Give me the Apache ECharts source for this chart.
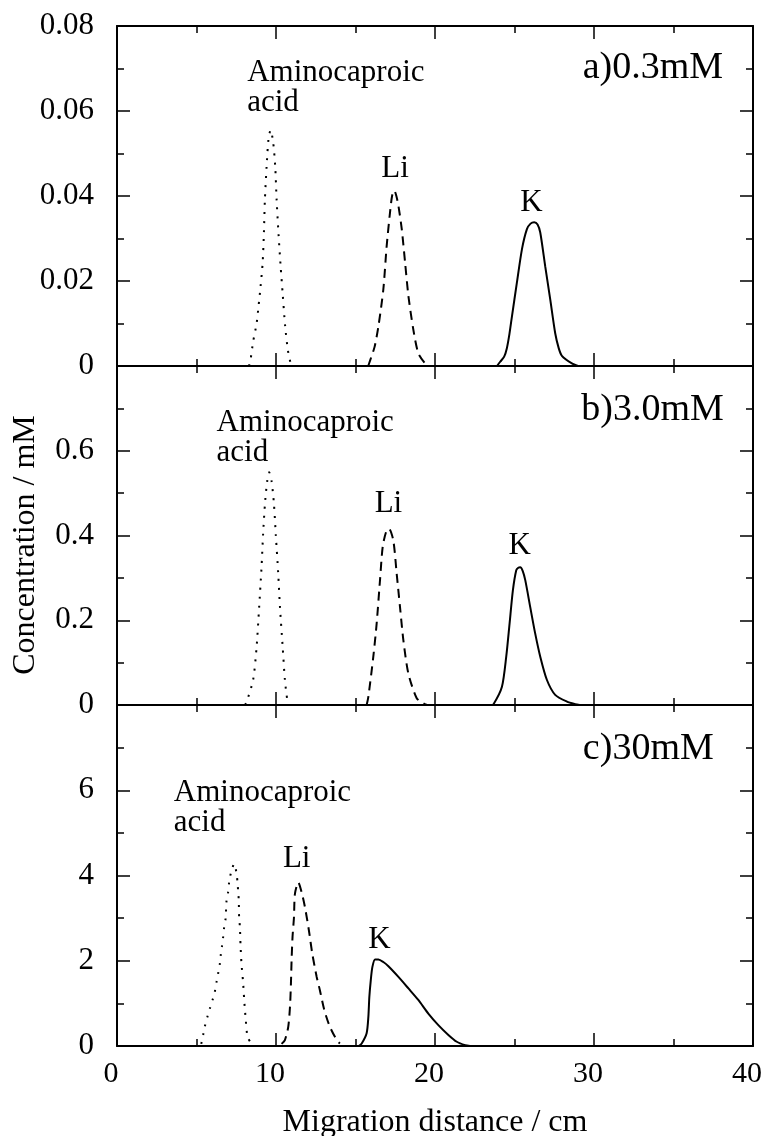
<!DOCTYPE html>
<html><head><meta charset="utf-8">
<script src="https://cdn.jsdelivr.net/npm/echarts@6/dist/echarts.min.js"></script>
<style>html,body{margin:0;padding:0;background:#fff}#c{width:766px;height:1136px}</style>
</head><body><div id="c"></div>
<script>
// ---------------- data ----------------
const xTickLabels = ['0', '10', '20', '30', '40'];
const yTickLabelsA = ['0', '0.02', '0.04', '0.06', '0.08'];
const yTickLabelsB = ['0', '0.2', '0.4', '0.6', '0.8'];
const yTickLabelsC = ['0', '2', '4', '6', '8'];
const panelTitles = ['a)0.3mM', 'b)3.0mM', 'c)30mM'];
const speciesNames = ['Aminocaproic\nacid', 'Li', 'K'];
const xAxisTitle = 'Migration distance / cm';
const yAxisTitle = 'Concentration / mM';

// panel a) 0.3 mM
const amcA = [[8.30,0],[8.40,0.0015],[8.56,0.0057],[8.78,0.010],[8.90,0.014],[9.03,0.0187],[9.16,0.0243],[9.24,0.0314],[9.30,0.039],[9.41,0.047],[9.53,0.0535],[9.66,0.0555],[9.82,0.0527],[9.95,0.047],[10.04,0.039],[10.16,0.031],[10.29,0.0235],[10.42,0.017],[10.58,0.0092],[10.75,0.0037],[10.92,0.0007],[11.05,0]];
const liA = [[15.80,0],[15.91,0.0012],[16.20,0.0045],[16.44,0.0093],[16.75,0.018],[16.96,0.0282],[17.17,0.0361],[17.30,0.0400],[17.44,0.0413],[17.57,0.0400],[17.70,0.0377],[17.91,0.0322],[18.12,0.0243],[18.33,0.0164],[18.64,0.0085],[18.95,0.003],[19.38,0.0006],[19.60,0]];
const kA = [[23.90,0],[24.10,0.001],[24.35,0.0022],[24.52,0.0042],[24.68,0.0075],[24.84,0.0117],[25.15,0.0196],[25.47,0.0275],[25.78,0.0322],[26.01,0.0335],[26.24,0.0338],[26.45,0.0333],[26.62,0.0314],[26.93,0.0235],[27.25,0.0156],[27.56,0.0077],[27.78,0.0042],[27.98,0.0024],[28.61,0.0006],[29.00,0]];

// panel b) 3.0 mM
const amcB = [[8.05,0],[8.15,0.007],[8.56,0.059],[8.78,0.137],[8.94,0.231],[9.09,0.325],[9.19,0.404],[9.32,0.482],[9.45,0.529],[9.57,0.549],[9.72,0.529],[9.87,0.475],[9.99,0.400],[10.14,0.31],[10.25,0.231],[10.42,0.137],[10.56,0.059],[10.71,0.012],[10.80,0]];
const liB = [[15.70,0],[15.81,0.02],[16.12,0.114],[16.33,0.192],[16.54,0.294],[16.71,0.373],[16.92,0.408],[17.11,0.416],[17.38,0.388],[17.59,0.31],[17.80,0.231],[18.01,0.153],[18.32,0.075],[18.85,0.016],[19.27,0.004],[19.50,0]];
const kB = [[23.50,0],[23.68,0.002],[24.21,0.043],[24.48,0.114],[24.69,0.192],[24.90,0.271],[25.11,0.318],[25.24,0.324],[25.36,0.325],[25.52,0.316],[25.68,0.294],[25.99,0.231],[26.30,0.169],[26.62,0.114],[27.04,0.059],[27.56,0.024],[28.30,0.008],[28.82,0.002],[29.10,0]];

// panel c) 30 mM
const amcC = [[5.30,0.05],[5.42,0.26],[5.52,0.45],[5.69,0.69],[5.84,0.88],[6.01,1.08],[6.15,1.27],[6.26,1.50],[6.36,1.70],[6.47,1.93],[6.53,2.15],[6.61,2.36],[6.68,2.57],[6.74,2.79],[6.83,2.99],[6.89,3.41],[6.99,3.61],[7.05,3.83],[7.16,4.05],[7.37,4.27],[7.52,4.05],[7.58,3.83],[7.62,3.63],[7.66,3.41],[7.68,3.02],[7.73,2.79],[7.77,2.36],[7.83,1.93],[7.93,1.50],[8.00,1.08],[8.09,0.65],[8.21,0.22],[8.46,0.05]];
const liC = [[10.35,0.05],[10.56,0.14],[10.77,0.45],[10.88,0.92],[10.94,1.47],[10.98,2.01],[11.04,2.56],[11.13,3.02],[11.19,3.57],[11.40,3.84],[11.61,3.61],[11.82,3.26],[12.07,2.71],[12.28,2.17],[12.56,1.62],[12.76,1.31],[13.04,0.84],[13.39,0.45],[13.82,0.14],[14.02,0.06]];
const kC = [[15.20,0],[15.39,0.06],[15.70,0.30],[15.81,0.69],[15.87,1.15],[15.96,1.54],[16.06,1.85],[16.23,2.03],[16.44,2.03],[16.75,1.97],[17.07,1.87],[17.70,1.62],[18.33,1.35],[18.95,1.08],[19.58,0.76],[20.21,0.49],[20.84,0.26],[21.37,0.10],[21.90,0.02],[22.20,0]];

// annotation anchors (data coordinates): amc, Li, K, panel title
const labelAnchorsA = [[8.19,0.0655],[17.49,0.0465],[26.07,0.0385],[38.12,0.0700]];
const labelAnchorsB = [[6.26,0.630],[17.07,0.474],[25.33,0.375],[38.16,0.695]];
const labelAnchorsC = [[3.57,5.59],[11.30,4.40],[16.51,2.49],[37.53,6.96]];

// ---------------- chart ----------------
const FONT = "'Liberation Serif','DejaVu Serif',serif";
const panels = [
  {top: 26, height: 340, max: 0.08, interval: 0.02, ticks: yTickLabelsA, series: [amcA, liA, kA], anchors: labelAnchorsA},
  {top: 366, height: 339, max: 0.8, interval: 0.2, ticks: yTickLabelsB, series: [amcB, liB, kB], anchors: labelAnchorsB},
  {top: 705, height: 341, max: 8, interval: 2, ticks: yTickLabelsC, series: [amcC, liC, kC], anchors: labelAnchorsC}
];
const lineTypes = [[2, 7], [9, 6], 'solid'];

const tickStyle = {inside: true, length: 13, lineStyle: {color: '#000', width: 1.5}};
const minorStyle = {show: true, splitNumber: 2, length: 7, lineStyle: {color: '#000', width: 1.5}};
const lineAx = {onZero: false, lineStyle: {color: '#000', width: 2}};

const grid = [], xAxis = [], yAxis = [], series = [];
panels.forEach((p, i) => {
  grid.push({left: 117, right: 13, top: p.top, height: p.height, outerBoundsMode: 'none', containLabel: false});
  const xb = {
    type: 'value', gridIndex: i, min: 0, max: 40, interval: 10, position: 'bottom',
    axisLine: lineAx, axisTick: tickStyle, minorTick: minorStyle, splitLine: {show: false},
    axisLabel: {show: i === 2, color: '#000', fontFamily: FONT, fontSize: 30, margin: 13, padding: [0, 12, 0, 0],
      formatter: v => xTickLabels[Math.round(v / 10)]}
  };
  if (i === 2) {
    Object.assign(xb, {name: xAxisTitle, nameLocation: 'middle', nameGap: 61, nameMoveOverlap: false,
      nameTextStyle: {color: '#000', fontFamily: FONT, fontSize: 32}});
  }
  xAxis.push(xb);
  xAxis.push({type: 'value', gridIndex: i, min: 0, max: 40, interval: 10, position: 'top',
    axisLine: lineAx, axisTick: tickStyle, minorTick: minorStyle, splitLine: {show: false}, axisLabel: {show: false}});
  yAxis.push({type: 'value', gridIndex: i, min: 0, max: p.max, interval: p.interval, position: 'left',
    axisLine: lineAx, axisTick: tickStyle, minorTick: minorStyle, splitLine: {show: false},
    axisLabel: {color: '#000', fontFamily: FONT, fontSize: 31, margin: 23, showMaxLabel: i === 0,
      formatter: v => p.ticks[Math.round(v / p.interval)]}});
  yAxis.push({type: 'value', gridIndex: i, min: 0, max: p.max, interval: p.interval, position: 'right',
    axisLine: lineAx, axisTick: tickStyle, minorTick: minorStyle, splitLine: {show: false}, axisLabel: {show: false}});

  p.series.forEach((d, k) => {
    series.push({
      type: 'line', xAxisIndex: i * 2, yAxisIndex: i * 2, data: d, symbol: 'none', smooth: 0.25,
      lineStyle: {color: '#000', width: 2, type: lineTypes[k], cap: 'butt'}, silent: true, z: 3
    });
  });
  const labels = [speciesNames[0], speciesNames[1], speciesNames[2], panelTitles[i]];
  const aligns = ['left', 'center', 'center', 'right'];
  series.push({
    type: 'scatter', xAxisIndex: i * 2, yAxisIndex: i * 2, symbolSize: 0, silent: true, z: 5,
    itemStyle: {opacity: 1, color: '#000'},
    label: {show: true, color: '#000', opacity: 1},
    data: p.anchors.map((a, k) => ({
      value: a, name: labels[k],
      label: {show: true, position: [0, 0], align: aligns[k], verticalAlign: 'middle',
        formatter: '{b}', color: '#000', opacity: 1, fontFamily: FONT,
        fontSize: k === 3 ? 38 : 31, lineHeight: k === 0 ? 30 : (k === 3 ? 40 : 32)}
    }))
  });
});

const chart = echarts.init(document.getElementById('c'), null, {renderer: 'canvas'});
chart.setOption({
  animation: false,
  backgroundColor: '#fff',
  grid, xAxis, yAxis, series,
  graphic: [{
    type: 'text', x: 26, y: 545, rotation: Math.PI / 2,
    style: {text: yAxisTitle, fill: '#000', font: "32px 'Liberation Serif'", align: 'center', verticalAlign: 'middle'}
  }]
});
</script></body></html>
